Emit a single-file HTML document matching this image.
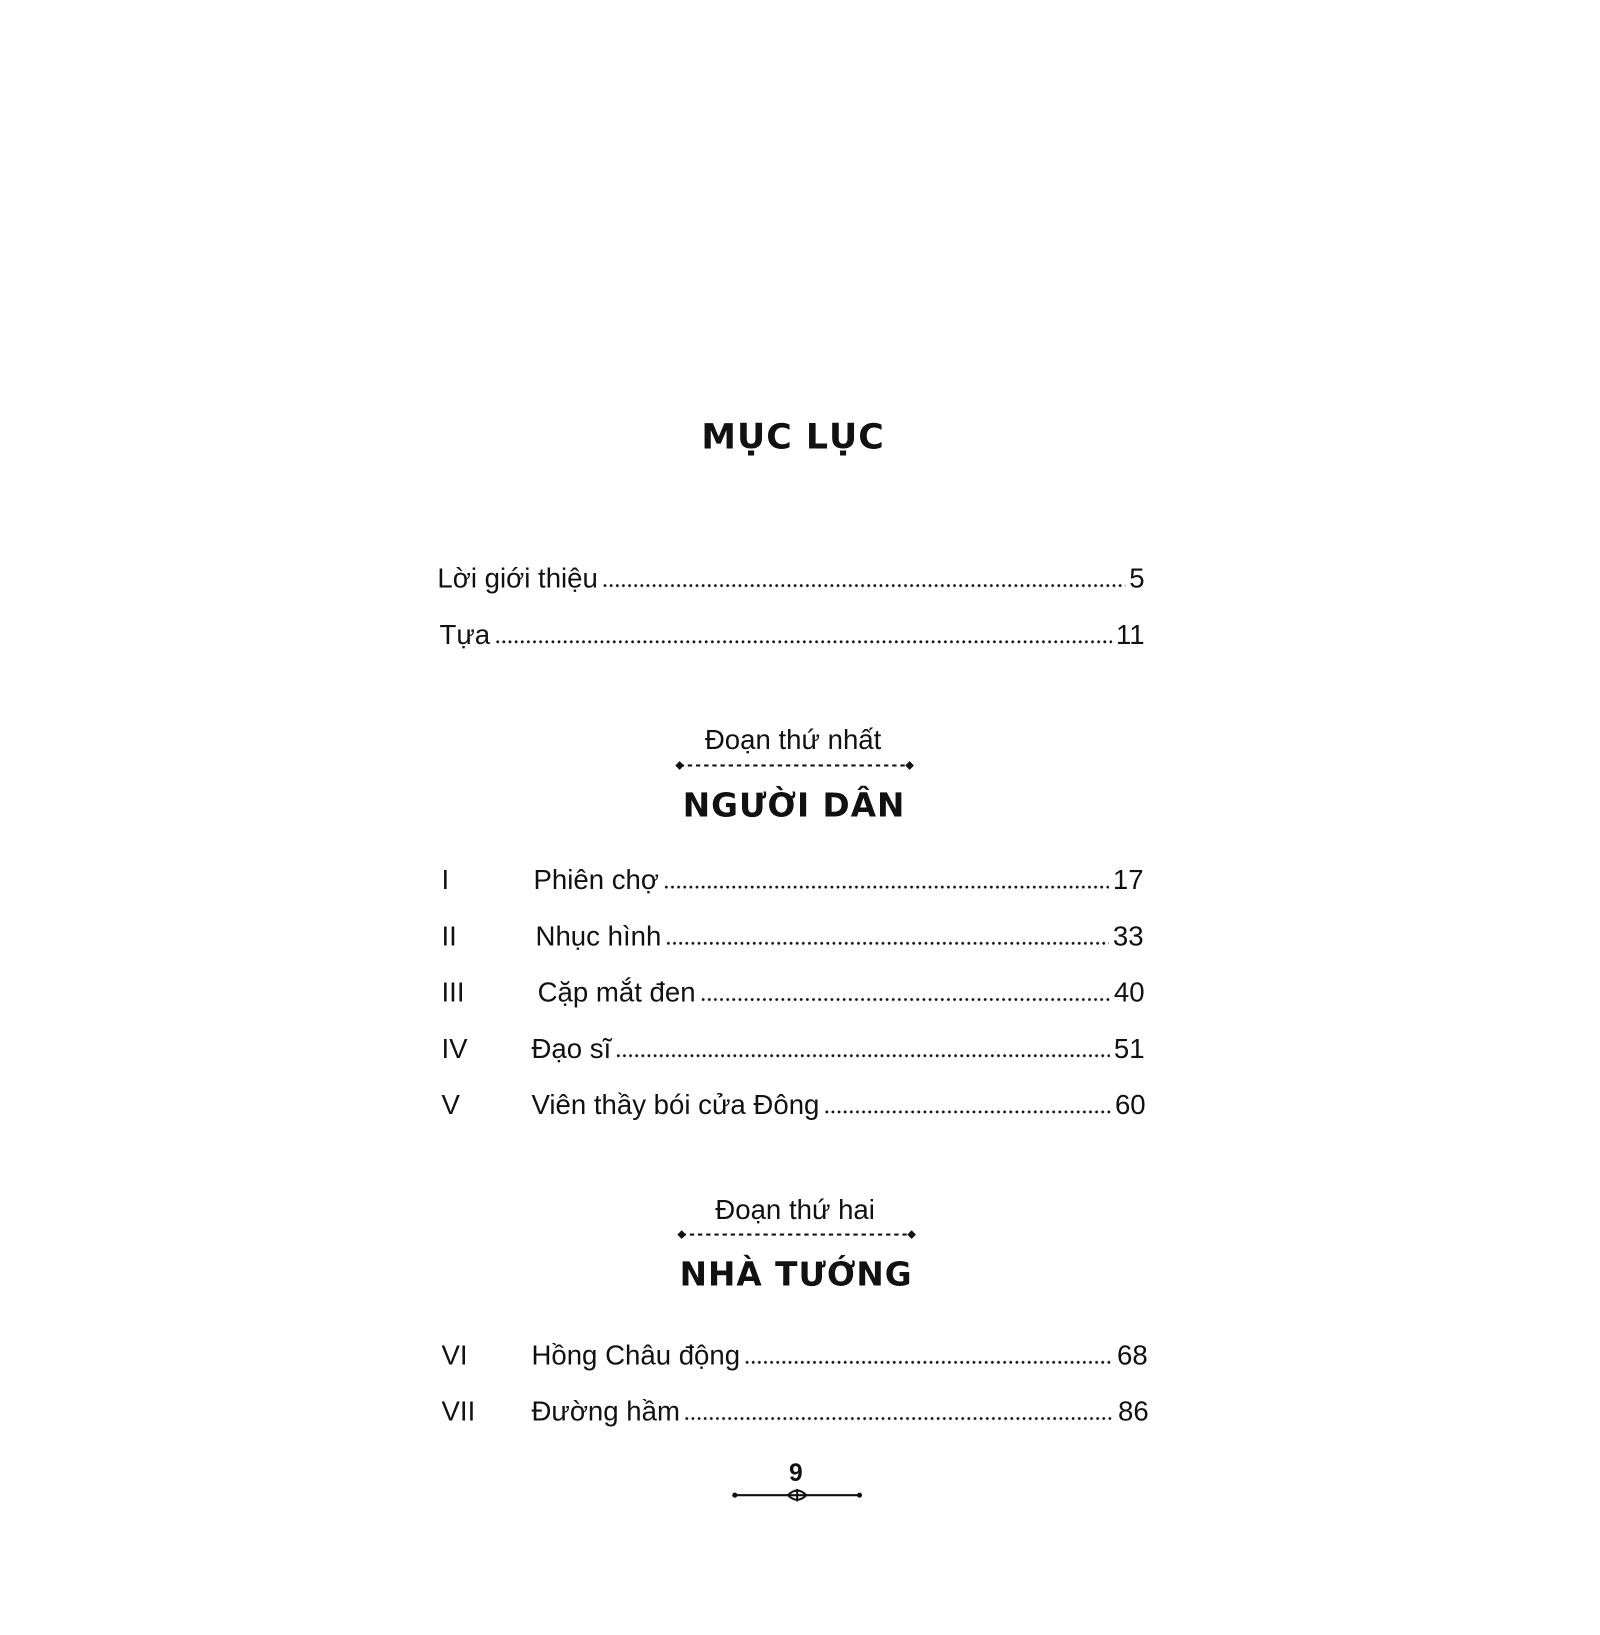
<!DOCTYPE html>
<html><head><meta charset="utf-8"><style>
html,body{margin:0;padding:0;background:#fff;}
body{width:1600px;height:1600px;position:relative;overflow:hidden;font-family:"Liberation Sans","DejaVu Sans",sans-serif;color:#111;}
#w{position:absolute;left:0;top:0;width:1600px;height:1600px;transform:scale(1.022);transform-origin:0 0;}
.a{position:absolute;white-space:nowrap;}
.title{font-family:"DejaVu Sans","Liberation Sans",sans-serif;font-weight:900;font-size:34px;letter-spacing:1px;transform:translateX(-50%);}
.sub{font-size:27px;transform:translateX(-50%);}
.row{position:absolute;display:flex;align-items:flex-end;font-size:27px;height:34px;}
.row .dots{flex:1;height:4px;margin:0 4px 7px 4px;background-image:radial-gradient(circle,#111 1.2px,transparent 1.6px);background-size:6px 4px;background-repeat:repeat-x;}
.num{position:absolute;font-size:27px;}
.dash{position:absolute;height:3px;background-image:linear-gradient(90deg,#111 55%,transparent 55%);background-size:8px 2px;background-repeat:repeat-x;}
.dash:before,.dash:after{content:"";position:absolute;top:-2px;width:6px;height:6px;background:#111;transform:rotate(45deg);}
.dash:before{left:-3px}.dash:after{right:-3px}
</style></head><body><div id="w">
<div class="a title" style="left:776px;top:408px;">MỤC LỤC</div>

<div class="row" style="left:428px;top:548px;width:692px;"><span>Lời giới thiệu</span><span class="dots"></span><span>5</span></div>
<div class="row" style="left:430px;top:603px;width:690px;"><span>Tựa</span><span class="dots"></span><span>11</span></div>

<div class="a sub" style="left:776px;top:709px;">Đoạn thứ nhất</div>
<div class="dash" style="left:665px;top:748px;width:225px;"></div>
<div class="a title" style="left:777px;top:769px;font-size:32px;">NGƯỜI DÂN</div>

<div class="num" style="left:432px;top:846px;">I</div>
<div class="row" style="left:522px;top:843px;width:597px;"><span>Phiên chợ</span><span class="dots"></span><span>17</span></div>
<div class="num" style="left:432px;top:901px;">II</div>
<div class="row" style="left:524px;top:898px;width:595px;"><span>Nhục hình</span><span class="dots"></span><span>33</span></div>
<div class="num" style="left:432px;top:956px;">III</div>
<div class="row" style="left:526px;top:953px;width:594px;"><span>Cặp mắt đen</span><span class="dots"></span><span>40</span></div>
<div class="num" style="left:432px;top:1011px;">IV</div>
<div class="row" style="left:520px;top:1008px;width:600px;"><span>Đạo sĩ</span><span class="dots"></span><span>51</span></div>
<div class="num" style="left:432px;top:1066px;">V</div>
<div class="row" style="left:520px;top:1063px;width:601px;"><span>Viên thầy bói cửa Đông</span><span class="dots"></span><span>60</span></div>

<div class="a sub" style="left:778px;top:1169px;">Đoạn thứ hai</div>
<div class="dash" style="left:667px;top:1207px;width:225px;"></div>
<div class="a title" style="left:779px;top:1228px;font-size:32px;">NHÀ TƯỚNG</div>

<div class="num" style="left:432px;top:1311px;">VI</div>
<div class="row" style="left:520px;top:1308px;width:603px;"><span>Hồng Châu động</span><span class="dots"></span><span>68</span></div>
<div class="num" style="left:432px;top:1366px;">VII</div>
<div class="row" style="left:520px;top:1363px;width:604px;"><span>Đường hầm</span><span class="dots"></span><span>86</span></div>

<div class="a" style="left:772px;top:1428px;font-size:24px;font-weight:bold;">9</div>
<svg class="a" style="left:715px;top:1452px;" width="130" height="22" viewBox="0 0 130 22">
<line x1="4" y1="11" x2="126" y2="11" stroke="#111" stroke-width="2"/>
<circle cx="4" cy="11" r="2.5" fill="#111"/><circle cx="126" cy="11" r="2.5" fill="#111"/>
<path d="M56 11 q9 -9 18 0 q-9 9 -18 0z" fill="none" stroke="#111" stroke-width="2"/>
<path d="M65 5 v12" stroke="#111" stroke-width="2"/>
</svg>
</div></body></html>
